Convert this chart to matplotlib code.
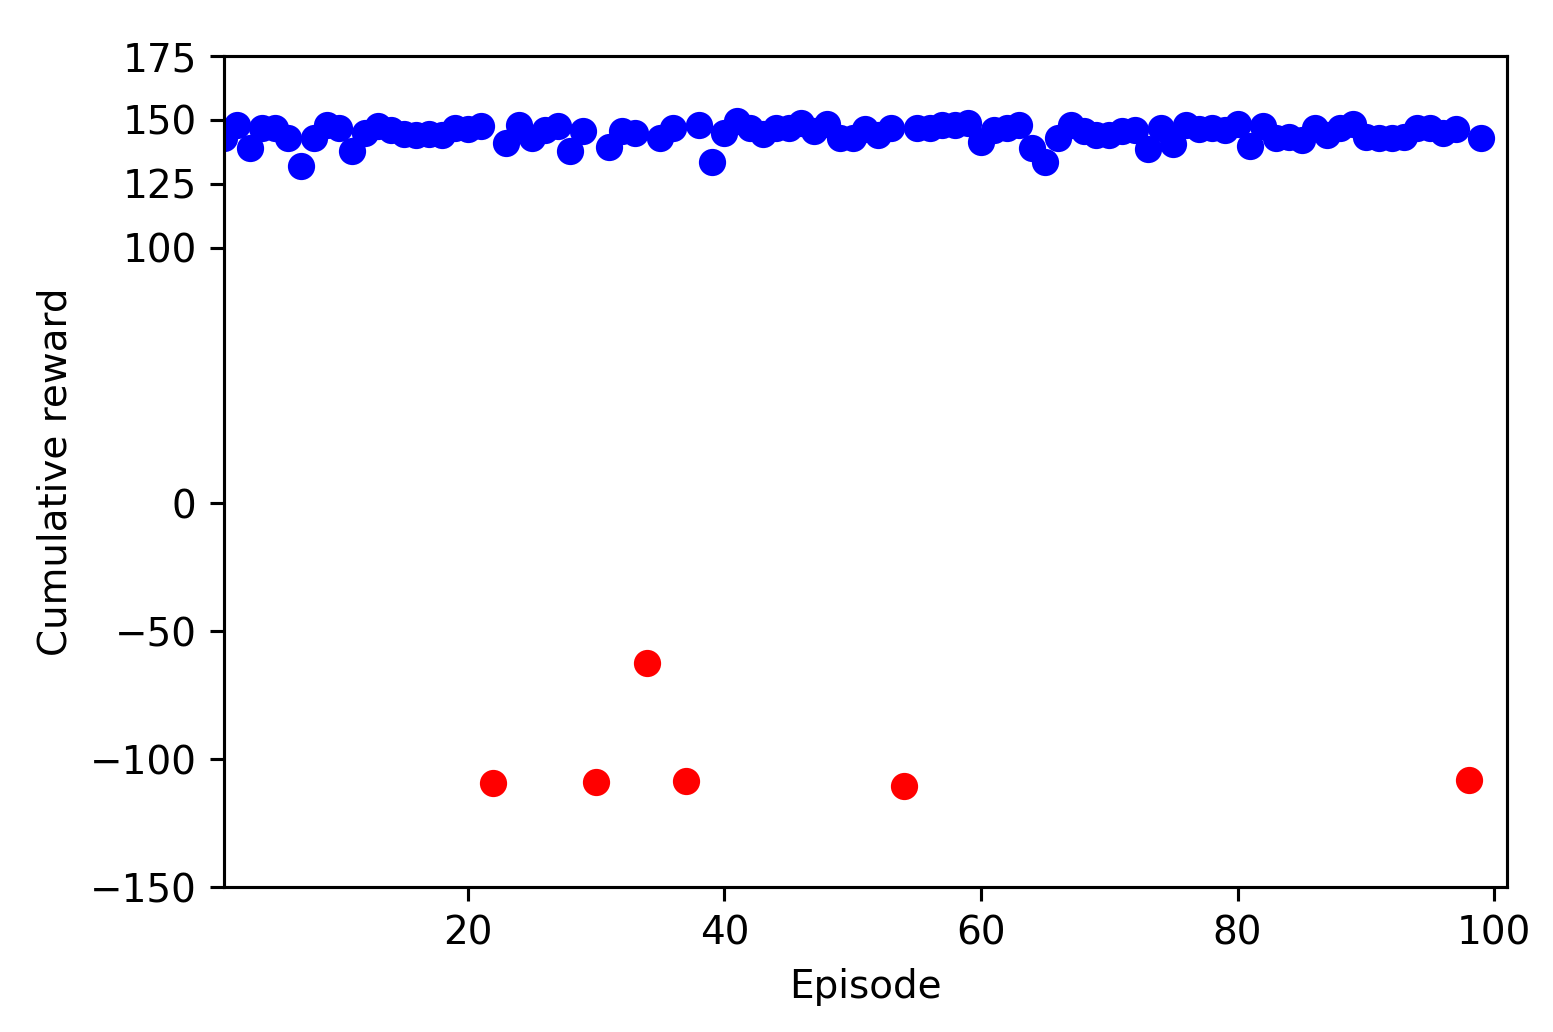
import matplotlib
matplotlib.use("Agg")
import matplotlib.pyplot as plt

# episodes that ended well (blue) and failed ones (red)
good_episodes = [1, 2, 3, 4, 5, 6, 7, 8, 9, 10, 11, 12, 13, 14, 15, 16, 17, 18, 19, 20, 21,
                 23, 24, 25, 26, 27, 28, 29, 31, 32, 33, 35, 36, 38, 39, 40, 41, 42, 43, 44,
                 45, 46, 47, 48, 49, 50, 51, 52, 53, 55, 56, 57, 58, 59, 60, 61, 62, 63, 64,
                 65, 66, 67, 68, 69, 70, 71, 72, 73, 74, 75, 76, 77, 78, 79, 80, 81, 82, 83,
                 84, 85, 86, 87, 88, 89, 90, 91, 92, 93, 94, 95, 96, 97, 99]
good_rewards = [143, 148, 139, 147, 147, 143, 132, 143, 148, 147, 138, 145, 147.5, 146,
                144.5, 144, 144.5, 144, 147, 146.5, 147.5,
                141, 148, 143, 146, 147.5, 138, 145.5, 139.5, 145.5, 145, 143, 147, 148,
                133.5, 145, 149.5, 147, 144.5, 147,
                147, 149, 145.5, 148.5, 143, 143, 146.5, 144, 147, 147, 147, 148, 148, 149,
                141.5, 146, 147, 148, 139,
                133.5, 143, 148, 145.5, 144, 144, 145.5, 146, 138.5, 147, 140.5, 148, 146.5,
                147, 146, 148.5, 140, 147.5, 143,
                143.5, 142, 147, 144, 147, 148.5, 143.5, 143, 143, 143.5, 147, 147, 145,
                146.5, 143]

bad_episodes = [22, 30, 34, 37, 54, 98]
bad_rewards = [-109.5, -109, -62.5, -108.5, -110.5, -108]

y_ticks = [175, 150, 125, 100, 0, -50, -100, -150]

fig = plt.figure(figsize=(1553 / 280, 1032 / 280), dpi=280)
ax = fig.add_axes([0.1442, 0.1405, 0.8262, 0.8052])

ax.plot(good_episodes, good_rewards, 'bo')
ax.plot(bad_episodes, bad_rewards, 'ro')

ax.set_xlim(1, 101)
ax.set_ylim(-150, 175)
ax.set_yticks(y_ticks)
ax.set_xlabel('Episode')
ax.set_ylabel('Cumulative reward')

fig.savefig('out.png', dpi=280)
